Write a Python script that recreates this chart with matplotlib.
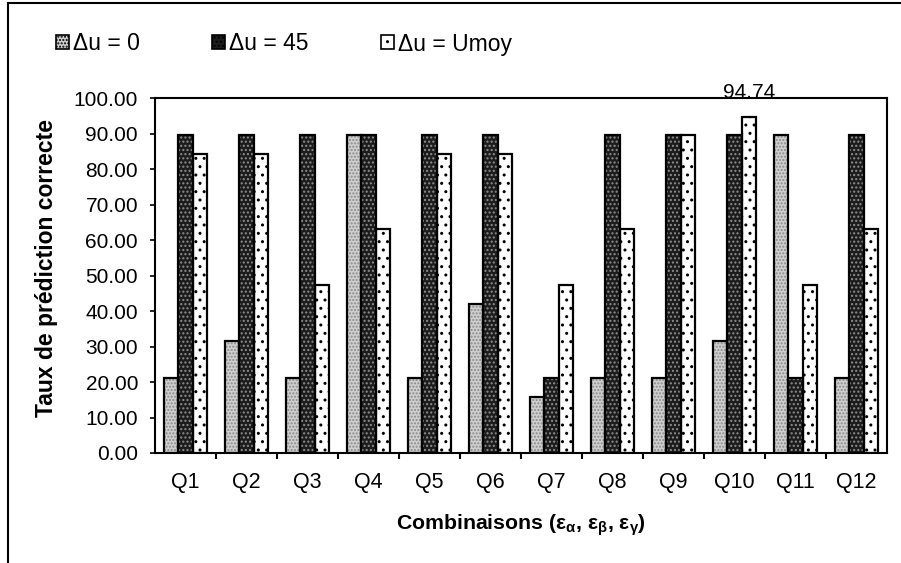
import matplotlib
matplotlib.use("Agg")
import matplotlib.pyplot as plt
import numpy as np
from matplotlib.lines import Line2D
from matplotlib.patches import Patch

plt.rcParams['font.family'] = ['Liberation Sans', 'DejaVu Sans']
plt.rcParams['mathtext.fontset'] = 'custom'
plt.rcParams['mathtext.rm'] = 'Liberation Sans:bold'
plt.rcParams['mathtext.it'] = 'Liberation Sans:bold'
plt.rcParams['mathtext.bf'] = 'Liberation Sans:bold'
plt.rcParams['hatch.linewidth'] = 1.0

categories = ['Q1', 'Q2', 'Q3', 'Q4', 'Q5', 'Q6', 'Q7', 'Q8', 'Q9', 'Q10', 'Q11', 'Q12']
du_0 = [21.05, 31.58, 21.05, 89.47, 21.05, 42.11, 15.79, 21.05, 21.05, 31.58, 89.47, 21.05]
du_45 = [89.47, 89.47, 89.47, 89.47, 89.47, 89.47, 21.05, 89.47, 89.47, 89.47, 21.05, 89.47]
du_umoy = [84.21, 84.21, 47.37, 63.16, 84.21, 84.21, 47.37, 63.16, 89.47, 94.74, 47.37, 63.16]
series_labels = ['Δu = 0', 'Δu = 45', 'Δu = Umoy']
yticks = [0, 10, 20, 30, 40, 50, 60, 70, 80, 90, 100]

fig = plt.figure(figsize=(9.01, 5.63), dpi=100)
ax = fig.add_axes([155/901, 1-453/563, (887-155)/901, (453-98)/563])

x = np.arange(len(categories))
w = 0.24
styles = [
    dict(fc='#cfcfcf', hc='#8a8a8a', hatch='.....'),
    dict(fc='#1c1c1c', hc='#8f8f8f', hatch='....'),
    dict(fc='white', hc='black', hatch='..'),
]
data = [du_0, du_45, du_umoy]
for i, (vals, st) in enumerate(zip(data, styles)):
    pos = x + (i - 1) * w
    ax.bar(pos, vals, w, color=st['fc'], edgecolor=st['hc'], hatch=st['hatch'], linewidth=0, zorder=2)
    ax.bar(pos, vals, w, facecolor='none', edgecolor='black', linewidth=1.6, zorder=3)

# label on max bar
imax = int(np.argmax(du_umoy))
ax.annotate(f"{du_umoy[imax]:.2f}", xy=(x[imax] + w, du_umoy[imax]), xytext=(0, 17.5),
            textcoords='offset points', ha='center', va='center', fontsize=15, clip_on=False,
            zorder=1)

ax.set_xlim(-0.5, len(categories) - 0.5)
ax.set_ylim(0, 100)
ax.set_yticks(yticks)
ax.set_yticklabels([f"{v:.2f}" for v in yticks], fontsize=15)
ax.set_xticks(x)
ax.set_xticklabels(categories, fontsize=15.5)
ax.set_xticks(np.arange(0.5, len(categories) - 0.5, 1), minor=True)
ax.tick_params(axis='x', which='major', length=0, pad=14)
ax.tick_params(axis='x', which='minor', length=4, width=1.5, direction='out')
ax.tick_params(axis='y', length=3.6, width=1.2, direction='out', pad=8.6)
for s in ax.spines.values():
    s.set_linewidth(1.5)

ax.set_ylabel('Taux de prédiction correcte', fontsize=16.5, fontweight='bold')
ax.yaxis.set_label_coords(-0.132, 0.522)
ax.set_xlabel(r'Combinaisons ($\mathrm{ε_α}$, $\mathrm{ε_β}$, $\mathrm{ε_γ}$)', fontsize=15.3,
              fontweight='bold', labelpad=14)

handles = [Patch(facecolor=st['fc'], edgecolor='black', hatch=st['hatch'], linewidth=1.2) for st in styles]
fig.legend(handles, series_labels, loc='center left', bbox_to_anchor=(56/901, 1-44/563), ncol=3,
           frameon=False, fontsize=16.5, handlelength=0.55, handleheight=0.55, handletextpad=0.2,
           columnspacing=3.15, borderaxespad=0, borderpad=0)

# outer frame: left and top lines
fig.add_artist(Line2D([8/901, 8/901], [0, 1-3/563], color='black', linewidth=1.5))
fig.add_artist(Line2D([8/901, 1], [1-3/563, 1-3/563], color='black', linewidth=1.5))

fig.savefig('out.png', dpi=100)
